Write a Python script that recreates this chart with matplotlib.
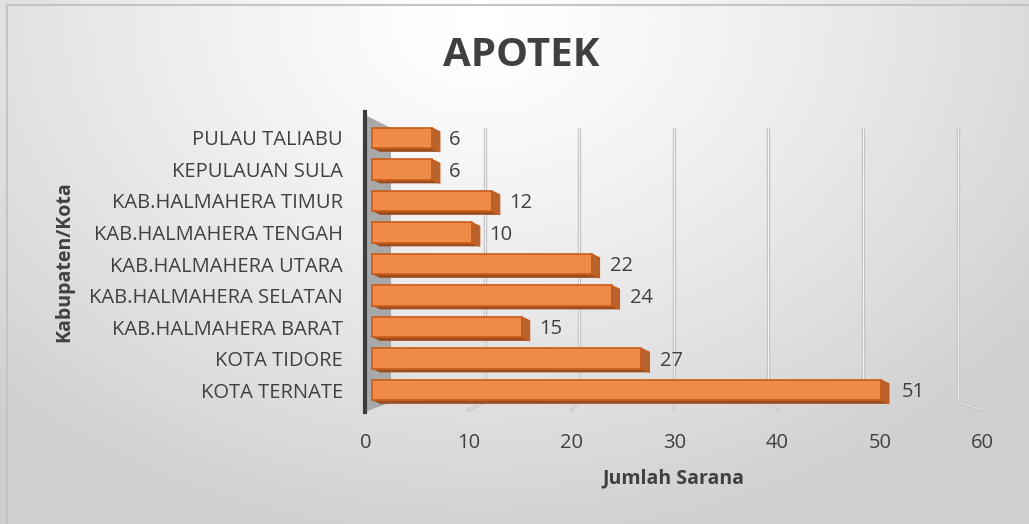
import numpy as np
import matplotlib
matplotlib.use("Agg")
import matplotlib.pyplot as plt
from matplotlib.patches import Polygon
import matplotlib.transforms as mtransforms

# ---- data ----
categories = ["KOTA TERNATE", "KOTA TIDORE", "KAB.HALMAHERA BARAT",
              "KAB.HALMAHERA SELATAN", "KAB.HALMAHERA UTARA",
              "KAB.HALMAHERA TENGAH", "KAB.HALMAHERA TIMUR",
              "KEPULAUAN SULA", "PULAU TALIABU"]
values = [51, 27, 15, 24, 22, 10, 12, 6, 6]
x_ticks = [0, 10, 20, 30, 40, 50, 60]
title = "APOTEK"
x_label = "Jumlah Sarana"
y_label = "Kabupaten/Kota"

plt.rcParams['font.family'] = ['Open Sans', 'DejaVu Sans']
TXT = '#404040'

W, H = 1029, 524
fig = plt.figure(figsize=(W / 100, H / 100), dpi=100)

# background gradient
bg = fig.add_axes([0, 0, 1, 1])
bg.set_axis_off()
yy, xx = np.mgrid[0:H, 0:W]
r = np.hypot(xx - 480, (yy - 20) * 1.3)
t = np.clip(r / 700, 0, 1)
shade = 1.0 - 0.19 * t ** 1.2
bg.imshow(shade, cmap='gray', vmin=0, vmax=1, extent=[0, W, H, 0],
          aspect='auto', interpolation='bilinear')
bg.set_xlim(0, W)
bg.set_ylim(H, 0)
bg.plot([7, 7], [5, H], color='#c4c4c4', lw=1.5)
bg.plot([7, W], [5, 5], color='#c4c4c4', lw=1.5)

# main axes (pixel geometry)
ax = fig.add_axes([365 / W, (H - 412) / H, 625 / W, 300 / H])
ax.patch.set_alpha(0)
PX0, SC = 372.0, 9.98
ax.set_xlim((365 - PX0) / SC, (990 - PX0) / SC)
ax.set_ylim(-0.698, 8.825)

# perspective mapping of the label scale vs bar scale
def f(v):
    return (SC * np.asarray(v) + (PX0 - 366.0)) / 10.28

def finv(u):
    return (10.28 * np.asarray(u) - (PX0 - 366.0)) / SC

blend = mtransforms.blended_transform_factory(ax.transData, ax.transAxes)

# side wall
wall_r = (391 - PX0) / SC
wall_l = (365 - PX0) / SC
ax.add_patch(Polygon([(wall_l, 0.99), (wall_r, 0.947), (wall_r, 0.033), (wall_l, 0.0)],
                     closed=True, facecolor='#a8a8a8', edgecolor='none',
                     transform=blend, zorder=1, clip_on=False))

# back-wall gridlines + floor lines
for u in x_ticks[1:]:
    xb = (390 + 9.46 * u - PX0) / SC
    xf = finv(u)
    ax.plot([xb, xb], [0.033, 0.947], transform=blend, color='#c2c2c2', lw=2.4,
            zorder=1, solid_capstyle='butt', clip_on=False)
    ax.plot([xb, xb], [0.036, 0.944], transform=blend, color='#f4f4f4', lw=0.8,
            zorder=1, clip_on=False)
    ax.plot([xb, xf], [0.033, 0.007], transform=blend, color='#c2c2c2', lw=2.0,
            zorder=1, clip_on=False)
    ax.plot([xb, xf], [0.033, 0.007], transform=blend, color='#f0f0f0', lw=0.6,
            zorder=1, clip_on=False)

# bars
y = np.arange(len(categories))
h = 0.64
dx, dyy = 0.8, 0.12
ax.barh(y, values, height=h, color='#F08A48', edgecolor='#C95C1A', lw=1.2, zorder=3)
for yi, v in zip(y, values):
    ax.add_patch(Polygon([(0, yi - h / 2), (v, yi - h / 2), (v + dx, yi - h / 2 - dyy),
                          (dx, yi - h / 2 - dyy)], closed=True, facecolor='#9c4e1e',
                         edgecolor='none', zorder=2))
    ax.add_patch(Polygon([(v, yi + h / 2), (v + dx, yi + h / 2 - dyy),
                          (v + dx, yi - h / 2 - dyy), (v, yi - h / 2)], closed=True,
                         facecolor='#B9622C', edgecolor='#C95C1A', lw=0.8, zorder=4))
    ax.annotate(str(v), (v + dx, yi), xytext=(6 + 0.06 * v, -1.5),
                textcoords='offset points', va='center', ha='left',
                fontsize=14.5, color=TXT)

# axes styling
ax.set_yticks(y, categories)
ax.tick_params(axis='y', length=0, pad=16, labelsize=14.5, labelcolor=TXT)
ax.set_xticks([])
for s in ['top', 'right', 'bottom']:
    ax.spines[s].set_visible(False)
ax.spines['left'].set_color('#3c3c3c')
ax.spines['left'].set_linewidth(3)
ax.spines['left'].set_zorder(5)

sec = ax.secondary_xaxis('bottom', functions=(f, finv))
sec.set_xticks(x_ticks)
sec.tick_params(length=0, pad=15, labelsize=14.5, labelcolor=TXT)
sec.spines['bottom'].set_visible(False)

fig.text(521 / W, 1 - 55 / H, title, ha='center', va='center', fontsize=29,
         fontweight='bold', color=TXT)
fig.text(673 / W, 1 - 478 / H, x_label, ha='center', va='center', fontsize=14,
         fontweight='bold', color=TXT)
fig.text(64 / W, 1 - 262 / H, y_label, ha='center', va='center', fontsize=14,
         fontweight='bold', color=TXT, rotation=90)

fig.savefig("out.png", dpi=100)
